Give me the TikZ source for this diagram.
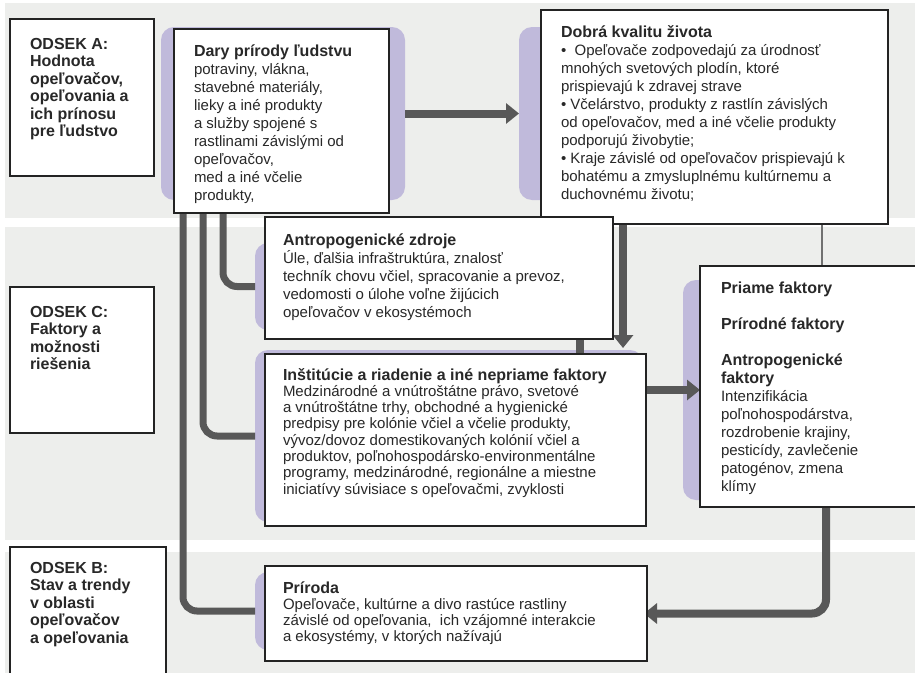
\documentclass[tikz,border=0pt]{standalone}
\usepackage{fontspec}
\setmainfont{Liberation Sans}
\usetikzlibrary{arrows.meta}
\definecolor{bandgray}{RGB}{237,238,236}
\definecolor{lav}{RGB}{192,186,219}
\definecolor{conngray}{RGB}{88,88,88}
\definecolor{txt}{RGB}{40,40,40}
\definecolor{edge}{RGB}{35,35,35}
\newcommand\ttl[1]{{\fontsize{16}{18}\selectfont\bfseries #1}}
\tikzset{
 pbox/.style={fill=lav, draw=none, rounded corners=13pt, inner sep=0pt, outer sep=0pt, anchor=north west},
 wbox/.style={fill=white, draw=edge, line width=1.2pt, inner sep=0pt, outer sep=0pt, anchor=north west},
 body/.style={inner sep=0pt, outer sep=0pt, anchor=north west, align=left, text=txt, font=\fontsize{15}{18}\selectfont},
 tightbody/.style={body, font=\fontsize{15}{16.3}\selectfont},
 headtxt/.style={inner sep=0pt, outer sep=0pt, anchor=north west, align=left, text=txt, font=\fontsize{16}{17.5}\selectfont\bfseries},
 conn/.style={draw=conngray, line width=7pt, rounded corners=14pt},
 arr/.style={draw=conngray, line width=8pt, -{Triangle[length=13pt,width=20pt]}},
 thinline/.style={draw=conngray!85!white, line width=1.5pt},
}
\begin{document}
\begin{tikzpicture}[x=1pt,y=-1pt]
\clip (0,0) rectangle (915,672);
% bands
\fill[bandgray] (5,3) rectangle (915,218);
\fill[bandgray] (5,227) rectangle (915,540);
\fill[bandgray] (5,552) rectangle (915,675);
% purple backs
\node[pbox, minimum width=244pt, minimum height=173pt] (daryP) at (161,27) {};
\node[pbox, minimum width=180pt, minimum height=173pt] (dobraP) at (519,27) {};
\node[pbox, minimum width=200pt, minimum height=87pt] (antroP) at (255,243) {};
\node[pbox, minimum width=388pt, minimum height=172pt] (instP) at (255,350) {};
\node[pbox, minimum width=100pt, minimum height=220pt] (priameP) at (683,280) {};
\node[pbox, minimum width=200pt, minimum height=78pt] (prirodaP) at (255,572) {};
% box geometry, needed for connectors
\node[wbox, minimum width=215pt, minimum height=184pt] (dary) at (174,29) {};
\node[wbox, minimum width=347pt, minimum height=214pt] (dobra) at (541,10) {};
\node[wbox, minimum width=348pt, minimum height=122pt] (antro) at (265,217) {};
\node[wbox, minimum width=381pt, minimum height=172pt] (inst) at (265,354) {};
\node[wbox, minimum width=230pt, minimum height=241pt] (priame) at (700,266) {};
\node[wbox, minimum width=382pt, minimum height=95pt] (priroda) at (265,566) {};
% connectors
\coordinate (l1) at ([xshift=9pt]dary.south west);
\coordinate (l2) at ([xshift=29pt]dary.south west);
\coordinate (l3) at ([xshift=49pt]dary.south west);
\draw[conn] ([yshift=10pt]l1) |- (prirodaP.west);
\draw[conn] ([yshift=10pt]l2) |- (instP.west);
\draw[conn] ([yshift=10pt]l3) |- (antroP.west);
\draw[arr] (daryP.east) -- (dobraP.west);
\coordinate (dA) at ([xshift=82pt]dobra.south west);
\draw[arr, shorten >=6pt] (dA) -- (dA |- inst.north);
\coordinate (sA) at ([xshift=-33pt]antro.south east);
\draw[draw=conngray, line width=8pt] (sA) -- (sA |- inst.north);
\coordinate (iA) at ([yshift=-36pt]inst.north east);
\draw[arr] (iA) -- (iA -| priame.west);
\coordinate (dT) at ([xshift=281pt]dobra.south west);
\draw[thinline] (dT) -- (dT |- priame.north);
\coordinate (pA) at ([xshift=126pt]priame.south west);
\draw[arr, rounded corners=14pt, shorten >=-3pt] (pA) |- (priroda.east);
% white boxes on top
\node[wbox, minimum width=144pt, minimum height=157pt] (odsA) at (10,19) {};
\node[wbox, minimum width=144pt, minimum height=146pt] (odsC) at (10,287) {};
\node[wbox, minimum width=156pt, minimum height=135pt] (odsB) at (10,547) {};
\node[wbox, minimum width=215pt, minimum height=184pt] at (174,29) {};
\node[wbox, minimum width=347pt, minimum height=214pt] at (541,10) {};
\node[wbox, minimum width=348pt, minimum height=122pt] at (265,217) {};
\node[wbox, minimum width=381pt, minimum height=172pt] at (265,354) {};
\node[wbox, minimum width=230pt, minimum height=241pt] at (700,266) {};
\node[wbox, minimum width=382pt, minimum height=95pt] at (265,566) {};
% texts
\node[headtxt] (odsAt) at (30,36) {\rule{0pt}{13pt}ODSEK A:\\Hodnota\\opeľovačov,\\opeľovania a\\ich prínosu\\pre ľudstvo};
\node[headtxt] (odsCt) at (30,304) {\rule{0pt}{13pt}ODSEK C:\\Faktory a\\možnosti\\riešenia};
\node[headtxt] (odsBt) at (30,560) {\rule{0pt}{13pt}ODSEK B:\\Stav a trendy\\v oblasti\\opeľovačov\\a opeľovania};
\begin{scope}
\clip (dary.north west) rectangle ([yshift=9pt]dary.south east);
\node[body] (daryt) at (194,43) {\rule{0pt}{13pt}\ttl{Dary prírody ľudstvu}\\potraviny, vlákna,\\stavebné materiály,\\lieky a iné produkty\\a služby spojené s\\rastlinami závislými od\\opeľovačov,\\med a iné včelie\\produkty,};
\end{scope}
\node[body] (dobrat) at (561,24) {\rule{0pt}{13pt}\ttl{Dobrá kvalitu života}\\•\ \ Opeľovače zodpovedajú za úrodnosť\\mnohých svetových plodín, ktoré\\prispievajú k zdravej strave\\• Včelárstvo, produkty z rastlín závislých\\od opeľovačov, med a iné včelie produkty\\podporujú živobytie;\\• Kraje závislé od opeľovačov prispievajú k\\bohatému a zmysluplnému kultúrnemu a\\duchovnému životu;};
\node[body] (antrot) at (283,232) {\rule{0pt}{13pt}\ttl{Antropogenické zdroje}\\Úle, ďalšia infraštruktúra, znalosť\\techník chovu včiel, spracovanie a prevoz,\\vedomosti o úlohe voľne žijúcich\\opeľovačov v ekosystémoch};
\node[tightbody] (instt) at (283,367) {\rule{0pt}{13pt}\ttl{Inštitúcie a riadenie a iné nepriame faktory}\\Medzinárodné a vnútroštátne právo, svetové\\a vnútroštátne trhy, obchodné a hygienické\\predpisy pre kolónie včiel a včelie produkty,\\vývoz/dovoz domestikovaných kolónií včiel a\\produktov, poľnohospodársko-environmentálne\\programy, medzinárodné, regionálne a miestne\\iniciatívy súvisiace s opeľovačmi, zvyklosti};
\node[body] (priamet) at (721,280) {\rule{0pt}{13pt}\ttl{Priame faktory}\\[18pt]\ttl{Prírodné faktory}\\[18pt]\ttl{Antropogenické}\\\ttl{faktory}\\Intenzifikácia\\poľnohospodárstva,\\rozdrobenie krajiny,\\pesticídy, zavlečenie\\patogénov, zmena\\klímy};
\node[tightbody] (prirodat) at (283,580) {\rule{0pt}{13pt}\ttl{Príroda}\\Opeľovače, kultúrne a divo rastúce rastliny\\závislé od opeľovania,\ \ ich vzájomné interakcie\\a ekosystémy, v ktorých nažívajú};
\end{tikzpicture}
\end{document}
